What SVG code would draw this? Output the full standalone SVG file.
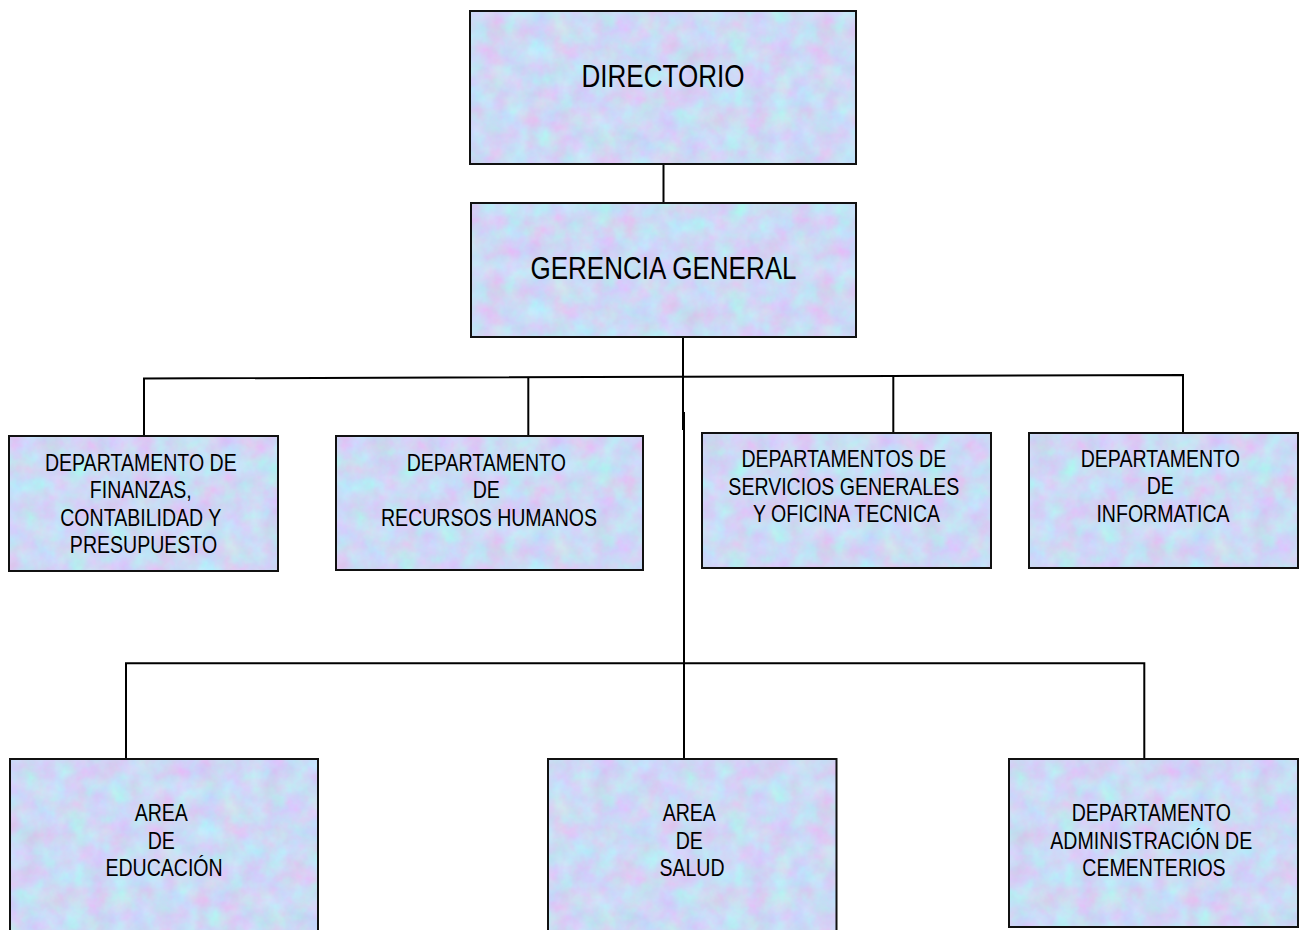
<svg xmlns="http://www.w3.org/2000/svg" width="1304" height="930" viewBox="0 0 1304 930">
<style>
  .box { fill: url(#tex); stroke: #111; stroke-width: 2; }
  .conn line, .conn path { stroke: #000; stroke-width: 2; fill: none; }
  .lbl { font-family: "Liberation Sans", Arial, sans-serif; fill: #000; text-anchor: middle; }
  .big { font-size: 31px; }
  .sm { font-size: 23px; }
</style>
<defs>
  <filter id="noise" x="0" y="0" width="1" height="1" color-interpolation-filters="sRGB">
    <feTurbulence type="fractalNoise" baseFrequency="0.045" numOctaves="4" seed="7" stitchTiles="stitch"/>
    <feColorMatrix type="matrix" values="0.2 -0.15 0 0 0.775  -0.08 0.24 0 0 0.77  0 0 0.1 0 0.91  0 0 0 0 1"/>
  </filter>
  <pattern id="tex" patternUnits="userSpaceOnUse" x="0" y="0" width="330" height="260">
    <rect x="0" y="0" width="330" height="260" fill="#cfd8f2" filter="url(#noise)"/>
  </pattern>
</defs>
<rect width="1304" height="930" fill="#fff"/>

<g class="conn" id="connectors">
  <line x1="663.5" y1="164" x2="663.5" y2="203"/>
  <line x1="683" y1="337" x2="683" y2="430"/>
  <line x1="684" y1="412" x2="684" y2="759"/>
  <path d="M144 436 V378.5 L1183 375 V436"/>
  <line x1="528.3" y1="377.3" x2="528.3" y2="436"/>
  <line x1="893.3" y1="376.2" x2="893.3" y2="434"/>
  <path d="M126 759 V663.3 H1144.3 V759"/>
</g>

<g id="directorio">
  <rect class="box" x="470" y="11" width="386" height="153"/>
  <text class="lbl big" transform="translate(663 0) scale(0.84 1)" x="0" y="87">DIRECTORIO</text>
</g>
<g id="gerencia">
  <rect class="box" x="471" y="203" width="385" height="134"/>
  <text class="lbl big" transform="translate(663.5 0) scale(0.84 1)" x="0" y="279">GERENCIA GENERAL</text>
</g>
<g id="finanzas">
  <rect class="box" x="9" y="436" width="269" height="135"/>
  <text class="lbl sm" transform="translate(143.5 0) scale(0.85 1)">
    <tspan x="0" y="471">DEPARTAMENTO DE</tspan>
    <tspan x="0" y="498.5">FINANZAS,</tspan>
    <tspan x="0" y="526">CONTABILIDAD Y</tspan>
    <tspan x="0" y="553.5">PRESUPUESTO</tspan>
  </text>
</g>
<g id="rrhh">
  <rect class="box" x="336" y="436" width="307" height="134"/>
  <text class="lbl sm" transform="translate(489 0) scale(0.85 1)">
    <tspan x="0" y="471">DEPARTAMENTO</tspan>
    <tspan x="0" y="498.5">DE</tspan>
    <tspan x="0" y="526">RECURSOS HUMANOS</tspan>
  </text>
</g>
<g id="servicios">
  <rect class="box" x="702" y="433" width="289" height="135"/>
  <text class="lbl sm" transform="translate(846.5 0) scale(0.85 1)">
    <tspan x="0" y="467.5">DEPARTAMENTOS DE</tspan>
    <tspan x="0" y="495">SERVICIOS GENERALES</tspan>
    <tspan x="0" y="522.5">Y OFICINA TECNICA</tspan>
  </text>
</g>
<g id="informatica">
  <rect class="box" x="1029" y="433" width="269" height="135"/>
  <text class="lbl sm" transform="translate(1163 0) scale(0.85 1)">
    <tspan x="0" y="467">DEPARTAMENTO</tspan>
    <tspan x="0" y="494.5">DE</tspan>
    <tspan x="0" y="522">INFORMATICA</tspan>
  </text>
</g>
<g id="educacion">
  <rect class="box" x="10" y="759" width="308" height="185"/>
  <text class="lbl sm" transform="translate(164 0) scale(0.85 1)">
    <tspan x="0" y="821.5">AREA</tspan>
    <tspan x="0" y="849">DE</tspan>
    <tspan x="0" y="876.5">EDUCACIÓN</tspan>
  </text>
</g>
<g id="salud">
  <rect class="box" x="548" y="759" width="288.5" height="185"/>
  <text class="lbl sm" transform="translate(692 0) scale(0.85 1)">
    <tspan x="0" y="821.5">AREA</tspan>
    <tspan x="0" y="849">DE</tspan>
    <tspan x="0" y="876.5">SALUD</tspan>
  </text>
</g>
<g id="cementerios">
  <rect class="box" x="1009" y="759" width="289" height="168"/>
  <text class="lbl sm" transform="translate(1154 0) scale(0.85 1)">
    <tspan x="0" y="821.5">DEPARTAMENTO</tspan>
    <tspan x="0" y="849">ADMINISTRACIÓN DE</tspan>
    <tspan x="0" y="876.5">CEMENTERIOS</tspan>
  </text>
</g>
</svg>
